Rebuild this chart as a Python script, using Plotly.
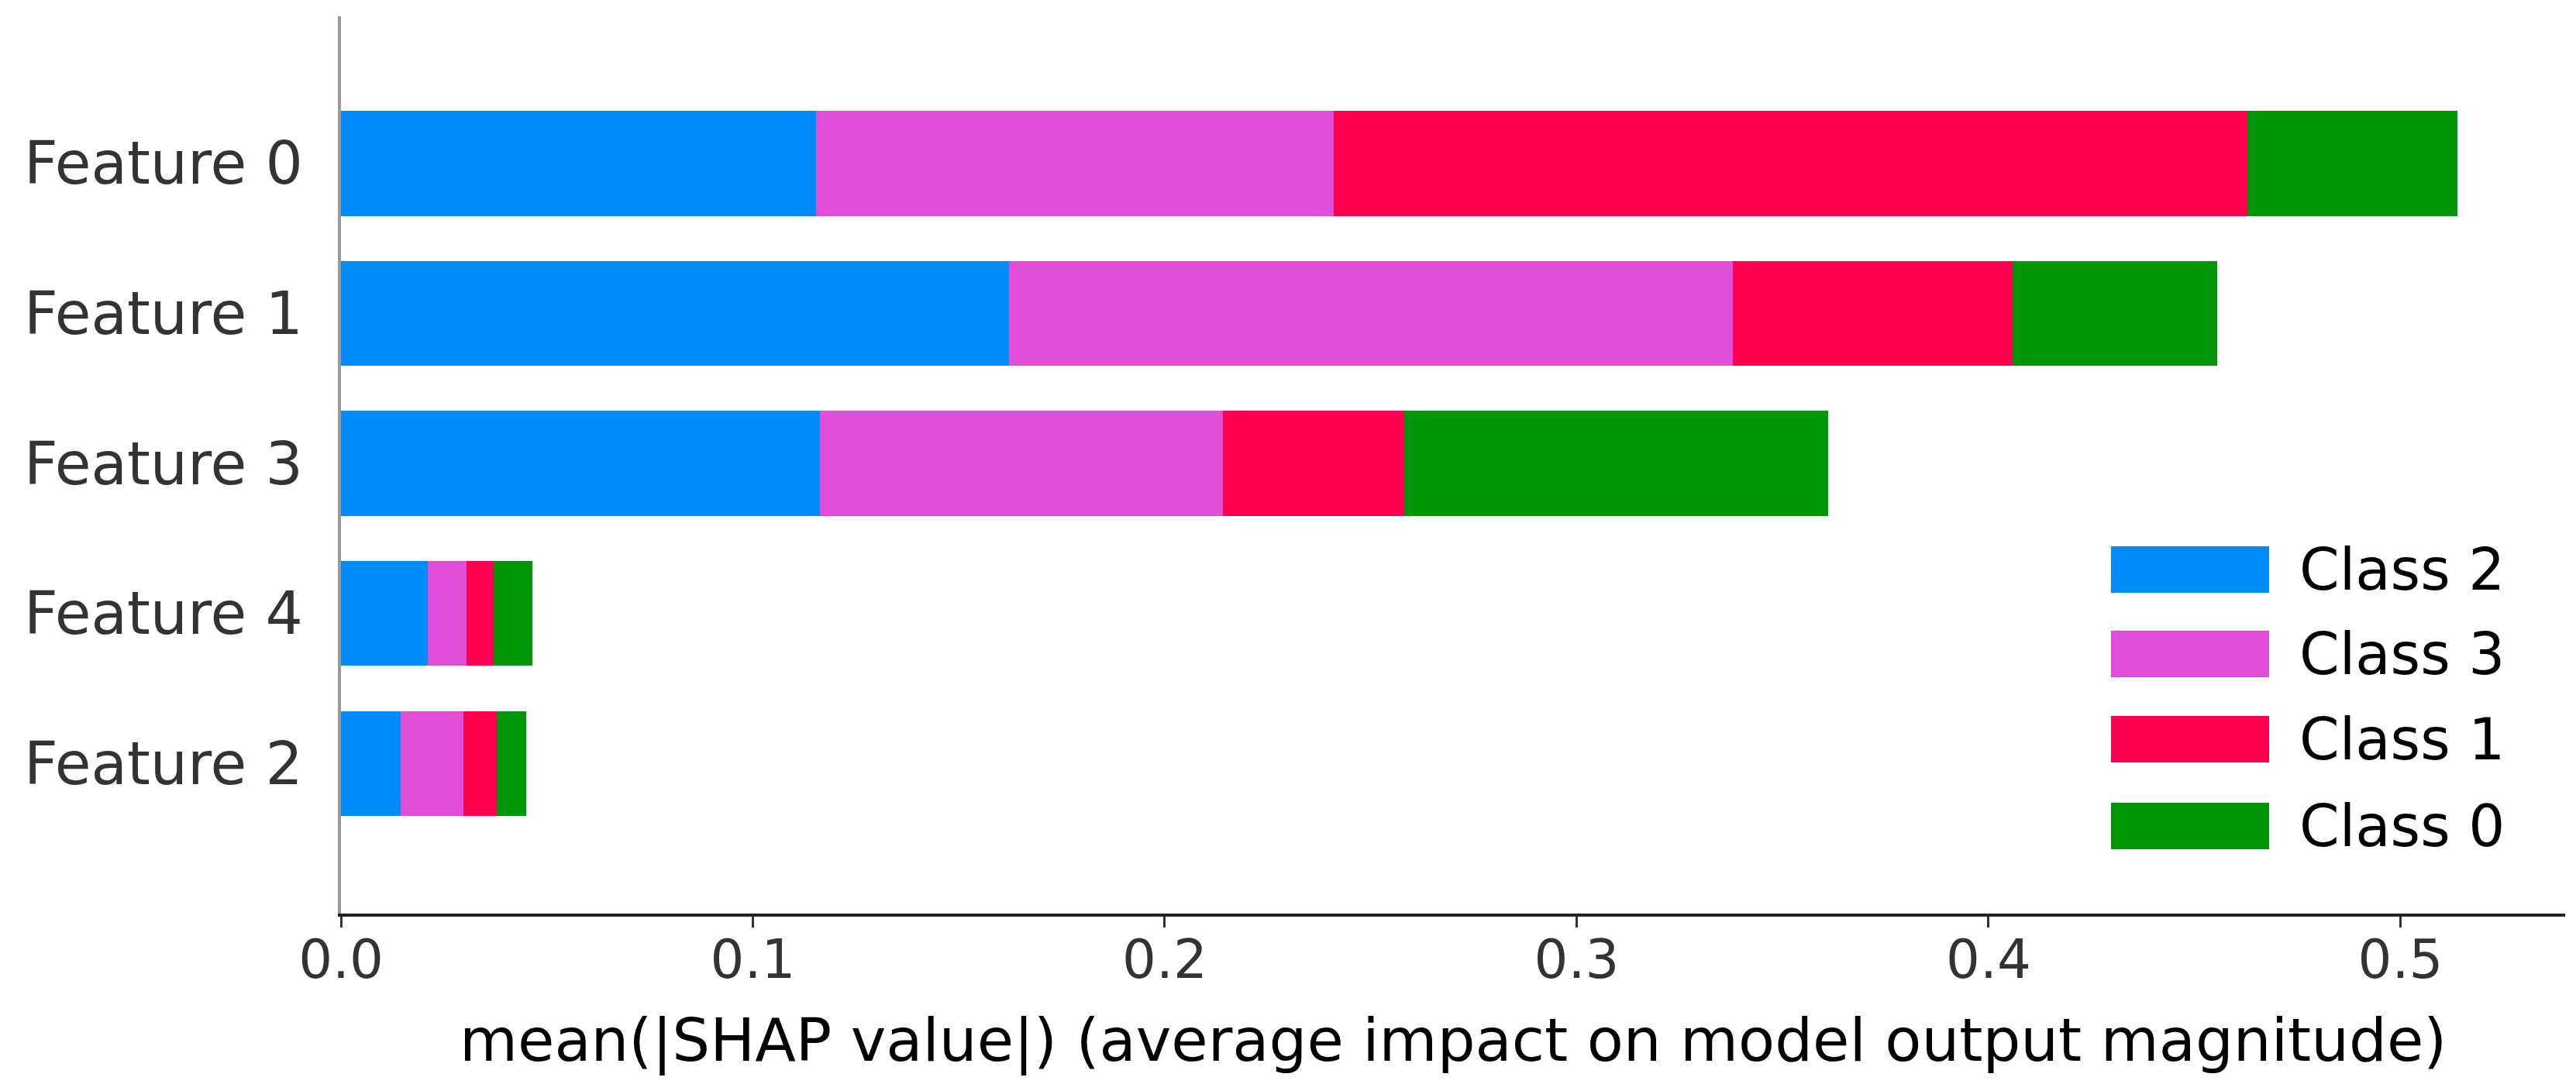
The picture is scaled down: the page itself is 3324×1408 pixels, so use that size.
import plotly.graph_objects as go

features = ["Feature 2", "Feature 4", "Feature 3", "Feature 1", "Feature 0"]
class_names = ["Class 2", "Class 3", "Class 1", "Class 0"]
class2 = [0.0145, 0.0210, 0.1162, 0.1622, 0.1154]
class3 = [0.0152, 0.0095, 0.0980, 0.1758, 0.1257]
class1 = [0.0081, 0.0065, 0.0440, 0.0679, 0.2218]
class0 = [0.0072, 0.0095, 0.1029, 0.0496, 0.0510]
x_ticks = [0.0, 0.1, 0.2, 0.3, 0.4, 0.5]
x_tick_labels = ["0.0", "0.1", "0.2", "0.3", "0.4", "0.5"]
x_label = "mean(|SHAP value|) (average impact on model output magnitude)"

colors = ["#008bfb", "#e04ed8", "#ff0051", "#00960a"]
series = [class2, class3, class1, class0]

FONT = "DejaVu Sans"
W, H = 3324, 1408
L, R, T, B = 432, 22, 13, 237

fig = go.Figure()
for name, vals, col in zip(class_names, series, colors):
    fig.add_trace(go.Bar(
        y=features, x=vals, orientation="h", name=name,
        marker=dict(color=col, line=dict(width=0)),
        width=0.7, showlegend=False,
    ))

# manual legend (matplotlib-style patches)
plot_w = W - L - R
plot_h = H - T - B
row_y = [727, 836, 946, 1058]
px0, px1, tx = 2716, 2920, 2957
half_h = 30
shapes = []
annotations = []
for name, col, yy in zip(class_names, colors, row_y):
    shapes.append(dict(
        type="rect", xref="paper", yref="paper",
        x0=(px0 - L) / plot_w, x1=(px1 - L) / plot_w,
        y0=(H - B - (yy + half_h)) / plot_h, y1=(H - B - (yy - half_h)) / plot_h,
        fillcolor=col, line=dict(width=0), layer="above",
    ))
    annotations.append(dict(
        text=name, xref="paper", yref="paper",
        x=(tx - L) / plot_w, y=(H - B - yy) / plot_h,
        xanchor="left", yanchor="middle", showarrow=False,
        font=dict(family=FONT, size=74, color="#000000"),
    ))

# x-axis label, centred on the axes
annotations.append(dict(
    text=x_label, xref="paper", yref="paper",
    x=0.5, y=(H - B - 1335) / plot_h,
    xanchor="center", yanchor="middle", showarrow=False,
    font=dict(family=FONT, size=77, color="#000000"),
))

fig.update_layout(
    width=W, height=H,
    margin=dict(l=L, r=R, t=T, b=B, autoexpand=False),
    barmode="stack",
    paper_bgcolor="white", plot_bgcolor="white",
    font=dict(family=FONT, color="#333333"),
    shapes=shapes, annotations=annotations,
    xaxis=dict(
        range=[0, 0.54], tickvals=x_ticks, ticktext=x_tick_labels,
        showgrid=False, zeroline=False,
        showline=True, linecolor="#222222", linewidth=4,
        ticks="outside", ticklen=14, tickwidth=3, tickcolor="#333333",
        ticklabelstandoff=-18,
        tickfont=dict(family=FONT, size=69, color="#333333"),
    ),
    yaxis=dict(
        categoryorder="array", categoryarray=features,
        range=[-1.0, 4.98],
        showgrid=False, zeroline=False,
        showline=True, linecolor="#999999", linewidth=4, layer="below traces",
        ticks="", ticklabelstandoff=30,
        tickfont=dict(family=FONT, size=76, color="#333333"),
    ),
)

fig.write_html("out.html")
